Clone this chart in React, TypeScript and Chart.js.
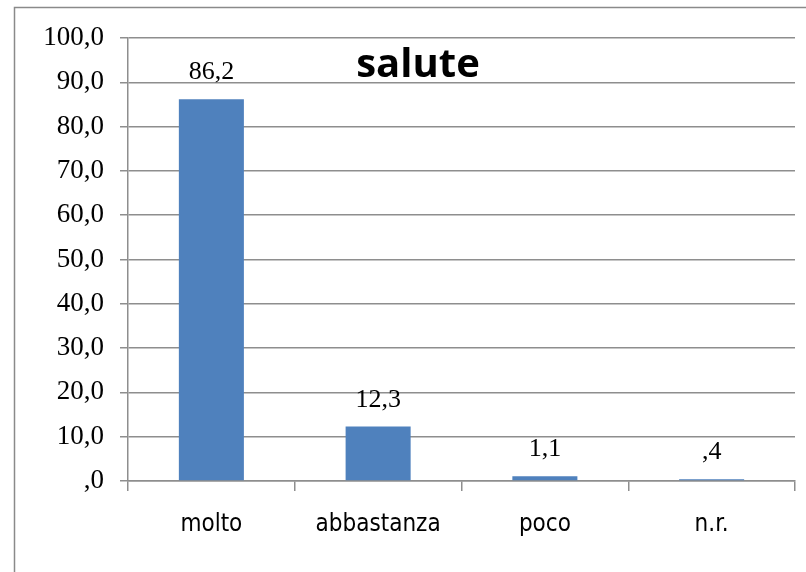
import React, { useEffect, useRef } from "react";
import { Chart, registerables } from "chart.js";

Chart.register(...registerables);

const categories = ["molto", "abbastanza", "poco", "n.r."];
const values = [86.2, 12.3, 1.1, 0.4];
const yMin = 0;
const yMax = 100;
const yStep = 10;
const titleText = "salute";

const fmt = (v: number) => v.toFixed(1).replace(".", ",").replace(/^0,/, ",");

const GRID = "#8e8e8e";

const framePlugin = {
  id: "frame",
  beforeDraw(chart: any) {
    const ctx = chart.ctx;
    ctx.save();
    ctx.fillStyle = "#ffffff";
    ctx.fillRect(0, 0, chart.width, chart.height);
    ctx.strokeStyle = "#8a8a8a";
    ctx.lineWidth = 1.5;
    ctx.strokeRect(14.5, 7.5, 1000, 1000);
    ctx.restore();
  },
};

const labelPlugin = {
  id: "valueLabels",
  afterDatasetsDraw(chart: any) {
    const ctx = chart.ctx;
    const meta = chart.getDatasetMeta(0);
    ctx.save();
    ctx.fillStyle = "#000000";
    ctx.font = "26px 'Liberation Serif'";
    ctx.textAlign = "center";
    ctx.textBaseline = "alphabetic";
    meta.data.forEach((bar: any, i: number) => {
      ctx.fillText(fmt(values[i]), bar.x, bar.y - 20);
    });
    ctx.restore();
  },
};

const titlePlugin = {
  id: "titleText",
  afterDraw(chart: any) {
    const ctx = chart.ctx;
    ctx.save();
    ctx.fillStyle = "#000000";
    ctx.font = "bold 40px 'Open Sans'";
    ctx.textAlign = "center";
    ctx.textBaseline = "alphabetic";
    ctx.fillText(titleText, 418, 77);
    ctx.restore();
  },
};

export default function App() {
  const ref = useRef<HTMLCanvasElement | null>(null);
  useEffect(() => {
    if (!ref.current) return;
    const chart = new Chart(ref.current, {
      type: "bar",
      data: {
        labels: categories,
        datasets: [
          {
            data: values,
            backgroundColor: "#4f81bd",
            borderWidth: 0,
            categoryPercentage: 1,
            barPercentage: 0.39,
          },
        ],
      },
      options: {
        animation: false,
        responsive: false,
        layout: { padding: { left: 0, top: 38, right: 11, bottom: 0 } },
        plugins: {
          legend: { display: false },
          title: { display: false },
          tooltip: { enabled: false },
        },
        scales: {
          x: {
            grid: {
              display: true,
              drawOnChartArea: false,
              drawTicks: true,
              tickLength: 10,
              color: GRID,
              lineWidth: 1.5,
              offset: true,
            },
            border: { display: true, color: GRID, width: 1.5 },
            ticks: {
              color: "#000000",
              font: { family: "'DejaVu Sans Condensed'", size: 24 },
              padding: 19,
            },
            afterFit(scale: any) {
              scale.height = 91;
            },
          },
          y: {
            min: yMin,
            max: yMax,
            ticks: {
              stepSize: yStep,
              color: "#000000",
              font: { family: "'Liberation Serif'", size: 27 },
              padding: 16,
              callback: (v: any) => fmt(Number(v)),
            },
            grid: {
              color: GRID,
              lineWidth: 1.5,
              tickLength: 8,
              drawTicks: true,
            },
            border: { display: true, color: GRID, width: 1.5 },
            afterFit(scale: any) {
              scale.width = 128;
            },
          },
        },
      },
      plugins: [framePlugin, labelPlugin, titlePlugin],
    });
    return () => chart.destroy();
  }, []);
  return (
    <div style={{ position: "absolute", left: 0, top: 0, width: 806, height: 572 }}>
      <canvas ref={ref} width={806} height={572} style={{ display: "block" }} />
    </div>
  );
}
